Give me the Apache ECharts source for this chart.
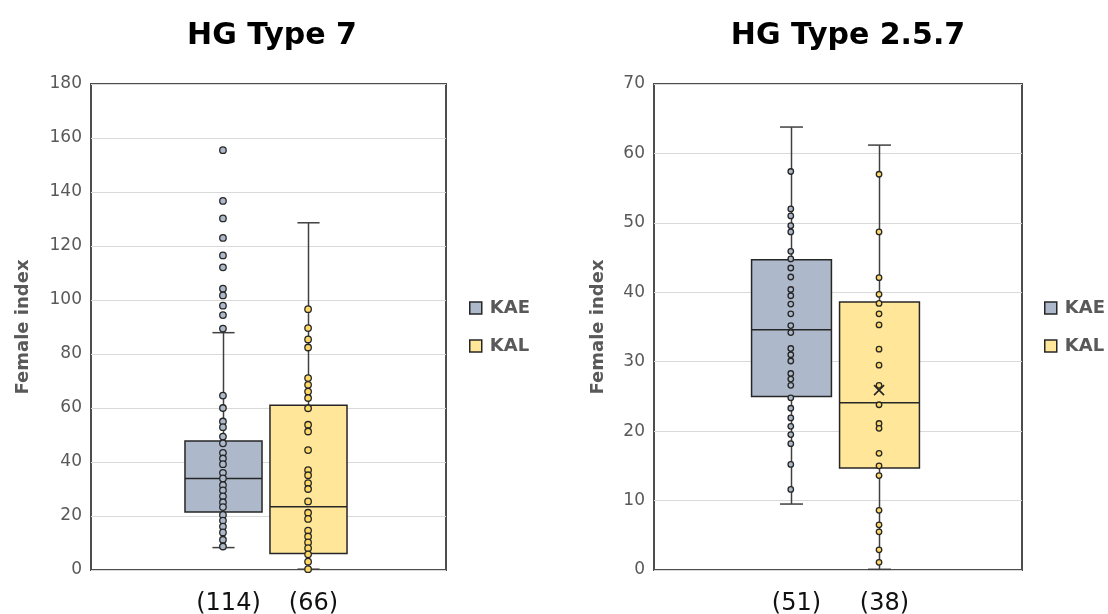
<!DOCTYPE html>
<html><head><meta charset="utf-8">
<script src="https://cdn.jsdelivr.net/npm/echarts@6/dist/echarts.min.js"></script>
<style>html,body{margin:0;padding:0;background:#fff}#c{width:1108px;height:614px}</style>
</head><body><div id="c"></div>
<script>
// ---- data ----
const groups = ['KAE', 'KAL'];
const titles = ['HG Type 7', 'HG Type 2.5.7'];
const countsT7 = ['(114)', '(66)'];
const countsT257 = ['(51)', '(38)'];
const yTicksT7 = [0, 180, 20];     // min, max, step
const yTicksT257 = [0, 70, 10];
// [lower whisker, Q1, median, Q3, upper whisker]
const boxT7_KAE = [8.3, 21.5, 33.9, 47.8, 87.9];
const boxT7_KAL = [0.3, 6.1, 23.4, 61.0, 128.6];
const boxT257_KAE = [9.5, 25.0, 34.6, 44.7, 63.8];
const boxT257_KAL = [0.1, 14.7, 24.1, 38.6, 61.2];
const meanT257_KAL = [25.9];
const ptsT7_KAE = [155.5, 136.7, 130.2, 123.0, 116.5, 112.1, 104.2, 101.7, 97.9, 94.4, 89.4, 64.6, 60.0, 55.0, 52.9, 49.4, 46.9, 43.4, 41.3, 39.2, 36.0, 33.9, 31.4, 29.5, 27.3, 25.1, 23.3, 20.4, 18.3, 16.1, 13.9, 11.2, 8.7];
const ptsT7_KAL = [96.6, 89.6, 85.4, 82.4, 71.1, 68.6, 66.1, 63.7, 59.9, 53.8, 51.3, 44.4, 37.0, 35.1, 32.2, 30.0, 25.4, 21.2, 18.9, 14.6, 12.4, 10.2, 8.1, 5.8, 3.1, 0.3];
const ptsT257_KAE = [57.4, 52.0, 51.0, 49.6, 48.7, 45.9, 44.8, 43.5, 42.2, 40.4, 39.5, 38.3, 36.9, 35.2, 34.2, 31.9, 31.0, 30.1, 28.3, 27.5, 26.6, 24.8, 23.3, 21.9, 20.7, 19.5, 18.2, 15.2, 11.6];
const ptsT257_KAL = [57.0, 48.7, 42.1, 39.7, 38.4, 36.9, 35.3, 31.8, 29.5, 26.6, 23.8, 21.1, 20.4, 16.8, 15.0, 13.6, 8.6, 6.5, 5.5, 2.9, 1.1];

// ---- styles ----
const FONT = '"DejaVu Sans", sans-serif';
const fills = { KAE: '#ADB9CA', KAL: '#FFE699' };
const dotFills = { KAE: '#ADB9CA', KAL: '#FFD966' };
const EDGE = '#262626';
const WHISK = '#404040';
const GRAY = '#595959';
const BOX_W = 0.905;   // in x-axis units
const CAP_W = 0.26;

function boxRender(labels) {
  return function (params, api) {
    const i = api.value(0);
    const pLo = api.coord([i, api.value(1)]);
    const pQ1 = api.coord([i, api.value(2)]);
    const pMd = api.coord([i, api.value(3)]);
    const pQ3 = api.coord([i, api.value(4)]);
    const pHi = api.coord([i, api.value(5)]);
    const p0 = api.coord([i, 0]);
    const half = api.size([BOX_W, 0])[0] / 2;
    const cap = api.size([CAP_W, 0])[0] / 2;
    const x = Math.round(pMd[0]) + 0.5;
    const fill = api.visual('color');
    const ls = { stroke: WHISK, lineWidth: 1.5 };
    return {
      type: 'group',
      children: [
        { type: 'line', shape: { x1: x, y1: pHi[1], x2: x, y2: pQ3[1] }, style: ls },
        { type: 'line', shape: { x1: x, y1: pQ1[1], x2: x, y2: pLo[1] }, style: ls },
        { type: 'line', shape: { x1: x - cap, y1: pHi[1], x2: x + cap, y2: pHi[1] }, style: ls },
        { type: 'line', shape: { x1: x - cap, y1: pLo[1], x2: x + cap, y2: pLo[1] }, style: ls },
        { type: 'rect', shape: { x: x - half, y: pQ3[1], width: half * 2, height: pQ1[1] - pQ3[1] },
          style: { fill: fill, stroke: EDGE, lineWidth: 1.5 } },
        { type: 'line', shape: { x1: x - half, y1: pMd[1], x2: x + half, y2: pMd[1] }, style: { stroke: EDGE, lineWidth: 1.5 } },
        { type: 'text', x: x + 5, y: p0[1] + 34,
          style: { text: labels[i], font: '24px ' + FONT, fill: '#111', align: 'center', verticalAlign: 'middle', textAlign: 'center', textVerticalAlign: 'middle' } }
      ]
    };
  };
}

function meanRender(params, api) {
  const p = api.coord([api.value(0), api.value(1)]);
  const r = 5;
  const st = { stroke: EDGE, lineWidth: 1.6 };
  return {
    type: 'group',
    children: [
      { type: 'line', shape: { x1: p[0] - r, y1: p[1] - r, x2: p[0] + r, y2: p[1] + r }, style: st },
      { type: 'line', shape: { x1: p[0] - r, y1: p[1] + r, x2: p[0] + r, y2: p[1] - r }, style: st }
    ]
  };
}

function boxSeries(name, idx, box, axisIdx, labels) {
  return {
    type: 'custom', name: name, xAxisIndex: axisIdx, yAxisIndex: axisIdx, z: 2,
    itemStyle: { color: fills[name] },
    renderItem: boxRender(labels),
    data: [[idx].concat(box)]
  };
}
function dotSeries(name, idx, pts, axisIdx, size) {
  return {
    type: 'scatter', name: name, xAxisIndex: axisIdx, yAxisIndex: axisIdx, z: 3,
    symbol: 'circle', symbolSize: size,
    itemStyle: { color: dotFills[name], borderColor: EDGE, borderWidth: 1.3, opacity: 1 },
    data: pts.map(v => [idx, v])
  };
}

const grids = [
  { left: 91, top: 84, width: 355, height: 486 },
  { left: 654, top: 84, width: 368, height: 486 }
].map(g => Object.assign(g, { show: true, borderColor: '#4d4d4d', borderWidth: 2, backgroundColor: 'transparent' }));

const yTicks = [yTicksT7, yTicksT257];
const yAxes = yTicks.map((t, k) => ({
  type: 'value', gridIndex: k, min: t[0], max: t[1], interval: t[2],
  name: 'Female index', nameLocation: 'middle', nameRotate: 90, nameGap: k === 0 ? 59 : 47,
  nameTextStyle: { color: GRAY, fontFamily: FONT, fontSize: 18, fontWeight: 'bold' },
  axisLine: { show: false }, axisTick: { show: false },
  axisLabel: { color: GRAY, fontFamily: FONT, fontSize: 17, margin: 9 },
  splitLine: { show: true, lineStyle: { color: '#D9D9D9', width: 1 } }
}));
const xAxes = [0, 1].map(k => ({ type: 'value', gridIndex: k, min: -1.55, max: 2.62, show: false }));

const legendItems = groups.map(g => ({ name: g, itemStyle: { color: fills[g], borderColor: EDGE, borderWidth: 1.5 } }));
const legendBase = {
  orient: 'vertical', icon: 'rect', itemWidth: 12, itemHeight: 12, itemGap: 20,
  textStyle: { color: GRAY, fontFamily: FONT, fontSize: 18, fontWeight: 'bold', padding: [0, 0, 0, 3] },
  data: legendItems, selectedMode: false
};

const option = {
  animation: false,
  backgroundColor: '#fff',
  grid: grids,
  xAxis: xAxes,
  yAxis: yAxes,
  legend: [
    Object.assign({}, legendBase, { left: 464, top: 294 }),
    Object.assign({}, legendBase, { left: 1039, top: 294 })
  ],
  graphic: [
    { type: 'text', x: 272, y: 36, style: { text: titles[0], font: 'bold 30px ' + FONT, fill: '#000', align: 'center', verticalAlign: 'middle', textAlign: 'center', textVerticalAlign: 'middle' } },
    { type: 'text', x: 848, y: 36, style: { text: titles[1], font: 'bold 30px ' + FONT, fill: '#000', align: 'center', verticalAlign: 'middle', textAlign: 'center', textVerticalAlign: 'middle' } }
  ],
  series: [
    boxSeries('KAE', 0, boxT7_KAE, 0, countsT7),
    boxSeries('KAL', 1, boxT7_KAL, 0, countsT7),
    dotSeries('KAE', 0, ptsT7_KAE, 0, 6.5),
    dotSeries('KAL', 1, ptsT7_KAL, 0, 6.5),
    boxSeries('KAE', 0, boxT257_KAE, 1, countsT257),
    boxSeries('KAL', 1, boxT257_KAL, 1, countsT257),
    dotSeries('KAE', 0, ptsT257_KAE, 1, 5.5),
    dotSeries('KAL', 1, ptsT257_KAL, 1, 5.5),
    { type: 'custom', name: 'KAL', xAxisIndex: 1, yAxisIndex: 1, z: 4, renderItem: meanRender,
      itemStyle: { color: fills.KAL }, data: meanT257_KAL.map(v => [1, v]) }
  ]
};
const chart = echarts.init(document.getElementById('c'), null, { renderer: 'canvas' });
chart.setOption(option);
</script>
</body></html>
